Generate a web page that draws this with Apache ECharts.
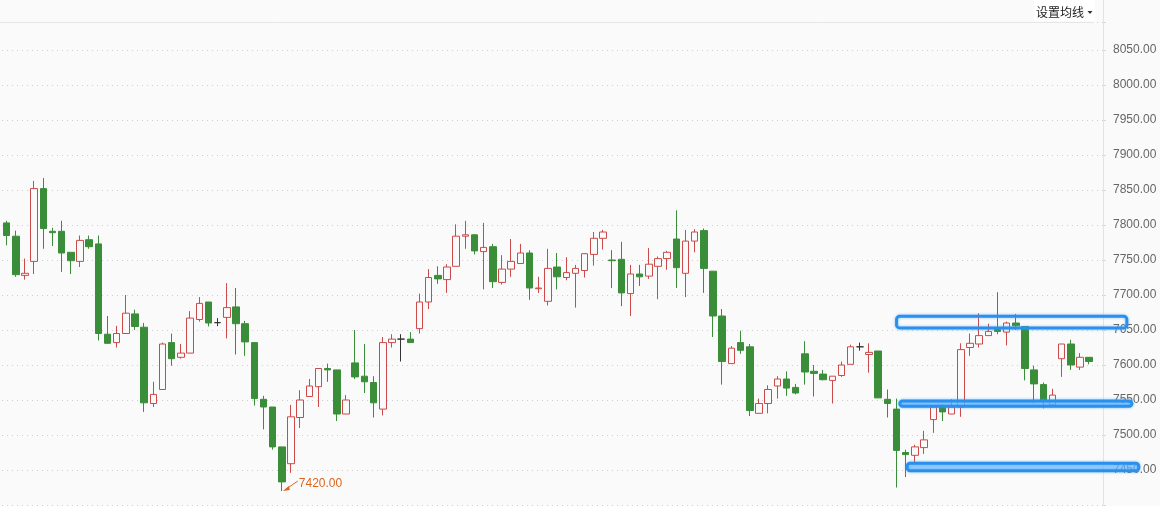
<!DOCTYPE html>
<html>
<head>
<meta charset="utf-8">
<script src="https://cdn.jsdelivr.net/npm/echarts@6/dist/echarts.min.js"></script>
<style>
html,body{margin:0;padding:0;background:#fafafa;}
#c{width:1160px;height:506px;}
</style>
</head>
<body>
<div id="c"></div>
<script>
// [open, close, low, high] per candle, left to right
const opens  = [7803,7784,7728,7748,7852,7791,7791,7761,7748,7779,7773,7644,7632,7645,7673,7654,7545,7565,7632,7611,
                7617,7665,7690,7660.5,7668,7683,7659,7632,7551,7540,7483,7459,7525,7555,7569,7595,7593,7530,7603,7584,
                7575,7537,7632,7637,7637,7652,7690,7728,7722,7741,7784,7786,7762,7769,7718,7737,7745,7760,7709,7691,
                7740,7725,7731,7735,7758,7781,7750,7751,7702,7730,7727,7741,7752,7780,7731,7777,7792,7734,7670,7602,
                7632,7626,7531,7545,7570,7580,7568,7616,7591,7587,7578,7585,7601,7626,7615,7620,7551,7537,7475,7471,
                7482,7522,7540,7530,7540,7625,7630,7642,7651,7647,7660,7655,7593,7572,7543,7609,7630,7597,7611];
const closes = [7785,7729,7731,7852,7795,7789,7760,7749,7778,7769,7645,7631,7645,7674,7655,7546,7558,7630,7609,7617,
                7667,7688,7660,7660.5,7682,7659,7633,7552,7540,7483,7433,7526,7550,7570,7595,7593,7530,7550,7583,7576,
                7546,7632,7637,7637,7632,7690,7725,7723,7740,7784,7786,7763,7768,7719,7737,7748,7760,7710,7710,7738,
                7726,7732,7738,7759,7781,7790,7749,7703,7730,7726,7744,7752,7761,7739,7777,7790,7738,7670,7605,7624,
                7621,7535,7545,7565,7580,7567,7560,7590,7588,7579,7584,7600,7626,7626,7618,7553,7545,7478,7472,7483,
                7493,7540,7533,7540,7622,7631,7642,7648,7648,7660,7656,7595,7573,7549,7557,7630,7600,7611,7605];
const lows   = [7771,7726,7722,7730,7766,7770,7733,7730,7740,7766,7635,7630,7625,7645,7650,7533,7540,7565,7599,7609,
                7617,7662,7655,7655.5,7638,7615,7613,7542,7508,7479,7420,7446,7510,7555,7540,7576,7520,7530,7580,7560,
                7525,7528,7625,7605,7632,7645,7680,7716,7703,7741,7766,7758,7708,7710,7715,7726,7745,7693,7703,7685,
                7708,7721,7682,7725,7742,7765,7710,7684,7670,7713,7723,7694,7736,7710,7697,7761,7703,7640,7572,7602,
                7616,7527,7531,7531,7552,7556,7558,7572,7555,7578,7545,7583,7601,7620.5,7589,7553,7525,7425,7440,7460,
                7473,7503,7520,7530,7526,7613,7625,7642,7644,7628,7650,7578,7545,7538,7543,7583,7593,7593,7601];
const highs  = [7806,7792,7752,7863,7867,7796,7806,7761,7785,7785,7785,7670,7656,7700,7679,7660,7576,7632,7645,7630,
                7677,7697,7690,7667,7717,7710,7663,7632,7556,7540,7483,7543,7564,7580,7595,7602,7593,7557,7650,7630,
                7584,7640,7644,7644,7647,7702,7737,7741,7744,7801,7806,7787,7803,7773,7757,7780,7773,7764,7726,7766,
                7760,7754,7743,7760,7790,7793,7764,7776,7743,7743,7767,7755,7763,7821,7793,7794,7795,7734,7680,7627,
                7649,7630,7552,7571,7584,7591,7573,7634,7600,7593,7584,7605,7629,7632,7631,7620,7565,7552,7479,7486,
                7506,7540,7544,7551,7631,7645,7674,7659,7704,7662,7673,7655,7599,7575,7566,7630,7636,7617,7611];
// axis tick labels shown on the right
const yTicks = [7450,7500,7550,7600,7650,7700,7750,7800,7850,7900,7950,8000,8050];
// highlighted price zones (candle index range, price range)
const zoneFrom = [97, 97.35, 98.15];
const zoneTo   = [122.1, 122.65, 123.4];
const zoneLow  = [7653, 7541, 7449];
const zoneHigh = [7669.5, 7548.6, 7459.6];
// annotated low
const lowIndex = 30;
const lowValue = 7420;

const slots = 120;
const categories = Array.from({length: slots}, (_, i) => String(i + 1));
const kdata = opens.map((o, i) => [o, closes[i], lows[i], highs[i]]);

const chart = echarts.init(document.getElementById('c'), null, {renderer: 'canvas'});
chart.setOption({
  backgroundColor: '#fafafa',
  animation: false,
  grid: {left: 2, right: 57, top: 22, bottom: 1, containLabel: false},
  xAxis: {
    type: 'category', data: categories, boundaryGap: true,
    axisLine: {show: false}, axisTick: {show: false}, axisLabel: {show: false}, splitLine: {show: false}
  },
  yAxis: {
    type: 'value', position: 'right', min: 7400, max: 8090, interval: 50, scale: true,
    axisLine: {show: false},
    axisTick: {show: true, length: 3, lineStyle: {color: '#d8d8d8'}},
    axisLabel: {
      margin: 10, color: '#666', fontSize: 12, fontFamily: 'Liberation Sans, Arial, sans-serif',
      padding: [3, 0, 0, 0],
      formatter: v => (yTicks.indexOf(v) >= 0 ? v.toFixed(2) : '')
    },
    splitLine: {show: true, lineStyle: {color: '#cfcfcf', type: [1, 4], width: 1}}
  },
  series: [{
    type: 'candlestick',
    data: kdata,
    barWidth: 7,
    itemStyle: {
      color: '#fafafa', color0: '#3a8e3a',
      borderColor: '#cc4a4a', borderColor0: '#3a8e3a',
      borderColorDoji: '#333333',
      borderWidth: 1
    }
  }]
});

function px(i, v) { return chart.convertToPixel({gridIndex: 0}, [i, v]); }
const p0 = px(0, 7500), p1 = px(10, 7500);
const slotW = (p1[0] - p0[0]) / 10;
const xOf = i => p0[0] + i * slotW;
const yOf = v => px(0, v)[1];

const graphics = [];
// top border & right separator
graphics.push({type: 'line', shape: {x1: 0, y1: 22.5, x2: 1094, y2: 22.5}, style: {stroke: '#e6e6e6', lineWidth: 1}, z: 5});
graphics.push({type: 'line', shape: {x1: 1103.5, y1: 0, x2: 1103.5, y2: 506}, style: {stroke: '#e3e3e3', lineWidth: 1}, z: 5});
// header button
graphics.push({type: 'rect', shape: {x: 1034, y: 0, width: 61, height: 21}, style: {fill: '#ffffff'}, z: 6});
graphics.push({type: 'text', x: 1036, y: 12, style: {text: '设置均线', fill: '#222', font: '12px "Noto Sans CJK SC", sans-serif', verticalAlign: 'middle'}, z: 7});
graphics.push({type: 'polygon', shape: {points: [[1087.5, 11], [1092.5, 11], [1090, 14]]}, style: {fill: '#333'}, z: 7});

// zones
for (let k = 0; k < zoneFrom.length; k++) {
  const x1 = xOf(zoneFrom[k]), x2 = xOf(zoneTo[k]);
  const y1 = yOf(zoneHigh[k]), y2 = yOf(zoneLow[k]);
  graphics.push({
    type: 'rect', z: 20,
    shape: {x: x1, y: y1, width: x2 - x1, height: y2 - y1, r: 3},
    style: {
      fill: k === 0 ? 'rgba(0,0,0,0)' : 'rgba(120,190,250,0.55)',
      stroke: '#2a90ee', lineWidth: 3,
      shadowBlur: 3, shadowColor: 'rgba(60,160,255,0.6)'
    }
  });
}

// low annotation
const lp = px(lowIndex, lowValue);
const ax = lp[0] + 1, ay = lp[1];
const tx = ax + 15, ty = ay - 10;
graphics.push({type: 'line', shape: {x1: tx, y1: ty, x2: ax + 2, y2: ay - 1}, style: {stroke: '#d8661c', lineWidth: 1}, z: 10});
graphics.push({type: 'polygon', shape: {points: [[ax, ay], [ax + 6, ay - 5], [ax + 7, ay - 1]]}, style: {fill: '#d8661c'}, z: 10});
graphics.push({type: 'text', x: tx + 1, y: ay - 7, style: {text: lowValue.toFixed(2), fill: '#d8661c', font: '12px "Liberation Sans", Arial, sans-serif', verticalAlign: 'middle'}, z: 10});

chart.setOption({graphic: graphics});
</script>
</body>
</html>
